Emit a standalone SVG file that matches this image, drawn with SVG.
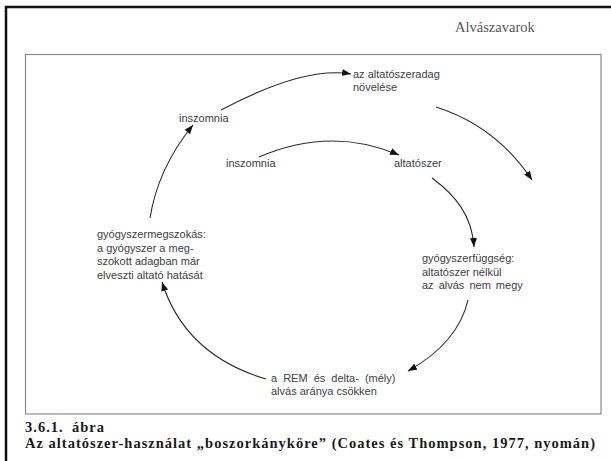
<svg xmlns="http://www.w3.org/2000/svg" width="611" height="461" viewBox="0 0 611 461">
<style>
.node{font-family:"Liberation Sans",Arial,sans-serif;font-size:11px;fill:#404040}
.cap{font-family:"Liberation Serif","Times New Roman",serif;font-size:14.5px;font-weight:bold;fill:#1a1a1a;letter-spacing:1px}
.conn{fill:none;stroke:#2a2a2a;stroke-width:1.1;marker-end:url(#ah)}
</style>
<defs>
<marker id="ah" viewBox="0 0 9 7" refX="9" refY="3.5" markerWidth="9" markerHeight="7" markerUnits="userSpaceOnUse" orient="auto">
<path d="M0,0 L9,3.5 L0,7 z" fill="#111"/>
</marker>
</defs>
<rect width="611" height="461" fill="#fff"/>
<path d="M6,461 V7 H611" fill="none" stroke="#111" stroke-width="2.5"/>
<rect x="25.5" y="54.5" width="575.5" height="359.5" fill="none" stroke="#8a8a8a" stroke-width="1.2"/>
<text x="455" y="32" font-family="Liberation Serif,serif" font-size="14.5" fill="#555">Alvászavarok</text>
<g id="connectors">
<path class="conn" d="M221,110 Q304,66 351,74"/>
<path class="conn" d="M436,107 Q496,126 532,180"/>
<path class="conn" d="M259,157 Q331,126 399,155"/>
<path class="conn" d="M432,178 C455,195 472,215 474,247"/>
<path class="conn" d="M468,300 Q458,343 408,371"/>
<path class="conn" d="M266,379 Q185,355 162,282"/>
<path class="conn" d="M150,218 Q158,168 193,125"/>
</g>
<g id="n-dose"><text class="node" x="353" y="78">az altatószeradag</text><text class="node" x="353" y="91">növelése</text></g>
<g id="n-insomnia-outer"><text class="node" x="179" y="122">inszomnia</text></g>
<g id="n-insomnia-inner"><text class="node" x="226" y="167">inszomnia</text></g>
<g id="n-hypnotic"><text class="node" x="394" y="167">altatószer</text></g>
<g id="n-dependence"><text class="node" x="422" y="262">gyógyszerfüggség:</text><text class="node" x="422" y="275.5">altatószer nélkül</text><text class="node" x="422" y="289" word-spacing="2">az alvás nem megy</text></g>
<g id="n-rem"><text class="node" x="271" y="382" word-spacing="3">a REM és delta- (mély)</text><text class="node" x="271" y="395">alvás aránya csökken</text></g>
<g id="n-habituation"><text class="node" x="97" y="238">gyógyszermegszokás:</text><text class="node" x="97" y="251.5">a gyógyszer a meg-</text><text class="node" x="97" y="265">szokott adagban már</text><text class="node" x="97" y="278.5">elveszti altató hatását</text></g>
<text class="cap" x="25" y="432">3.6.1.<tspan x="72">ábra</tspan></text>
<text class="cap" x="25" y="448" textLength="571" lengthAdjust="spacing">Az altatószer-használat „boszorkányköre” (Coates és Thompson, 1977, nyomán)</text>
</svg>
